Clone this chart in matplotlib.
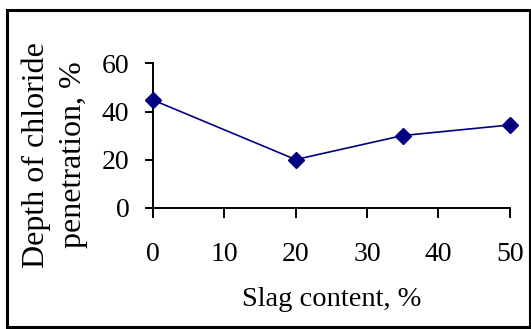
import matplotlib
matplotlib.use('Agg')
import matplotlib.pyplot as plt
from matplotlib.patches import Rectangle

slag = [0, 20, 35, 50]
depth = [44.8, 20, 30, 34.4]
xticks = [0, 10, 20, 30, 40, 50]
yticks = [0, 20, 40, 60]

plt.rcParams['font.family'] = ['Liberation Serif', 'DejaVu Serif']

fig = plt.figure(figsize=(5.31, 3.29), dpi=100)
ax = fig.add_axes([0.288, 0.369, 0.672, 0.438])

ax.plot(slag, depth, color='#000080', lw=1.2, marker='D', ms=8,
        mfc='#000080', mec='#000080', clip_on=False, zorder=3)

ax.set_xlim(0, 50)
ax.set_ylim(0, 60)
ax.set_xticks(xticks)
ax.set_yticks(yticks)
for s in ['top', 'right']:
    ax.spines[s].set_visible(False)
ax.spines['left'].set_linewidth(1.4)
ax.spines['bottom'].set_linewidth(1.4)
ax.tick_params(axis='x', direction='out', length=7, width=1.4, pad=18, labelsize=20)
ax.tick_params(axis='y', direction='out', length=6, width=1.4, pad=11, labelsize=20)

ax.set_xlabel('Slag content, %', fontsize=20.5, labelpad=14)
fig.text(0.103, 0.53, 'Depth of chloride\npenetration, %', rotation=90,
         ha='center', va='center', fontsize=23, linespacing=1.38)

fig.patches.append(Rectangle((0.0132, 0.0046), 0.984, 0.965, transform=fig.transFigure,
                             fill=False, edgecolor='black', lw=2.2))

fig.savefig('out.png', dpi=100)
